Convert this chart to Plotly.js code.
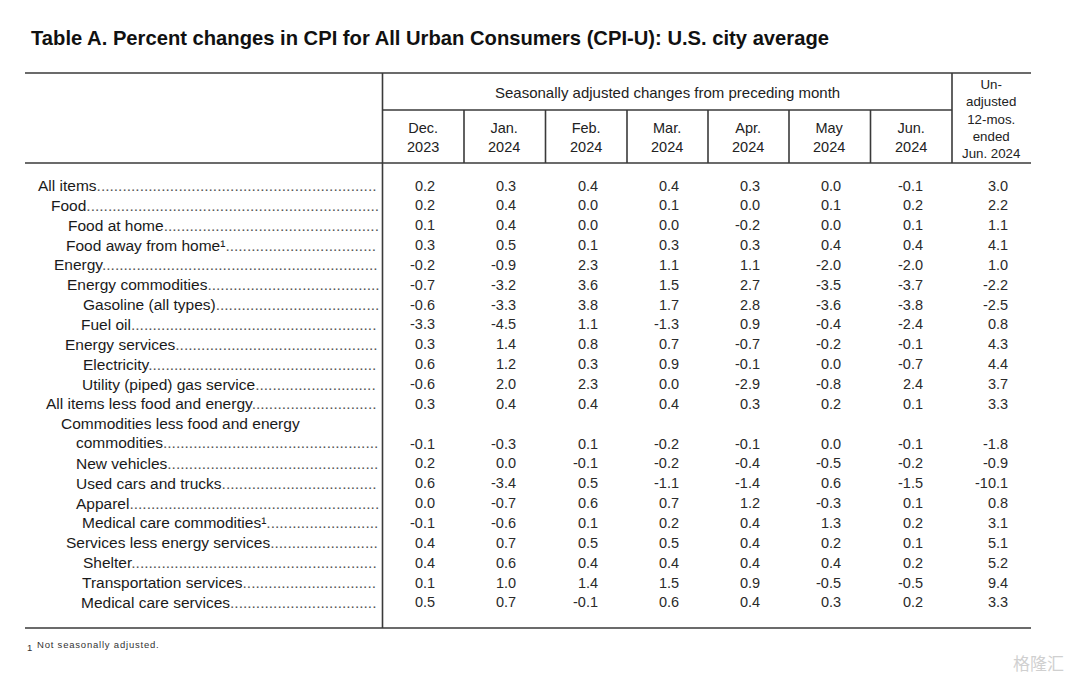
<!DOCTYPE html>
<html>
<head>
<meta charset="utf-8">
<script src="https://cdn.plot.ly/plotly-3.0.1.min.js"></script>
<style>html,body{margin:0;padding:0;background:#fff;}#chart{width:1071px;height:681px;}</style>
</head>
<body>
<div id="chart"></div>
<script>
// ---------------- DATA ----------------
const tableTitle = "Table A. Percent changes in CPI for All Urban Consumers (CPI-U): U.S. city average";
const groupHeader = "Seasonally adjusted changes from preceding month";
const columnHeaders = ["Dec.<br>2023", "Jan.<br>2024", "Feb.<br>2024", "Mar.<br>2024", "Apr.<br>2024", "May<br>2024", "Jun.<br>2024"];
const unadjHeader = "Un-<br>adjusted<br>12-mos.<br>ended<br>Jun. 2024";
const categories = [
  "All items", "Food", "Food at home", "Food away from home\u00b9", "Energy",
  "Energy commodities", "Gasoline (all types)", "Fuel oil", "Energy services", "Electricity",
  "Utility (piped) gas service", "All items less food and energy",
  "Commodities less food and energy\ncommodities", "New vehicles", "Used cars and trucks",
  "Apparel", "Medical care commodities\u00b9", "Services less energy services", "Shelter",
  "Transportation services", "Medical care services"
];
const dec2023 = [0.2, 0.2, 0.1, 0.3, -0.2, -0.7, -0.6, -3.3, 0.3, 0.6, -0.6, 0.3, -0.1, 0.2, 0.6, 0.0, -0.1, 0.4, 0.4, 0.1, 0.5];
const jan2024 = [0.3, 0.4, 0.4, 0.5, -0.9, -3.2, -3.3, -4.5, 1.4, 1.2, 2.0, 0.4, -0.3, 0.0, -3.4, -0.7, -0.6, 0.7, 0.6, 1.0, 0.7];
const feb2024 = [0.4, 0.0, 0.0, 0.1, 2.3, 3.6, 3.8, 1.1, 0.8, 0.3, 2.3, 0.4, 0.1, -0.1, 0.5, 0.6, 0.1, 0.5, 0.4, 1.4, -0.1];
const mar2024 = [0.4, 0.1, 0.0, 0.3, 1.1, 1.5, 1.7, -1.3, 0.7, 0.9, 0.0, 0.4, -0.2, -0.2, -1.1, 0.7, 0.2, 0.5, 0.4, 1.5, 0.6];
const apr2024 = [0.3, 0.0, -0.2, 0.3, 1.1, 2.7, 2.8, 0.9, -0.7, -0.1, -2.9, 0.3, -0.1, -0.4, -1.4, 1.2, 0.4, 0.4, 0.4, 0.9, 0.4];
const may2024 = [0.0, 0.1, 0.0, 0.4, -2.0, -3.5, -3.6, -0.4, -0.2, 0.0, -0.8, 0.2, 0.0, -0.5, 0.6, -0.3, 1.3, 0.2, 0.4, -0.5, 0.3];
const jun2024 = [-0.1, 0.2, 0.1, 0.4, -2.0, -3.7, -3.8, -2.4, -0.1, -0.7, 2.4, 0.1, -0.1, -0.2, -1.5, 0.1, 0.2, 0.1, 0.2, -0.5, 0.2];
const unadj12mo = [3.0, 2.2, 1.1, 4.1, 1.0, -2.2, -2.5, 0.8, 4.3, 4.4, 3.7, 3.3, -1.8, -0.9, -10.1, 0.8, 3.1, 5.1, 5.2, 9.4, 3.3];
const footnote = "Not seasonally adjusted.";
const watermark = "\u683c\u9686\u6c47";

// ---------------- LAYOUT (positions / styles) ----------------
const W = 1071, H = 681;
const FONT = "Liberation Sans, Arial, sans-serif";
const LABEL_SIZE = 15.5;
const labelIndent = [36, 49, 66, 64, 52, 65, 81, 79, 63, 81, 80, 44, [59, 74], 74, 74, 74, 80, 64, 81, 80, 79];
const rowTop = 185.5, rowStep = 19.85;
const colCenters = [423, 504, 586, 667, 748, 829, 911];
const unadjCenter = 991;
const leaderEnd = 378;
const monthSeries = [dec2023, jan2024, feb2024, mar2024, apr2024, may2024, jun2024];

function slotY(s) { return rowTop + rowStep * s; }
function rowSlot(i) { return i <= 12 ? i : i + 1; } // row 12 has two lines
function valueSlot(i) { return i === 12 ? 13 : rowSlot(i); }

const cv = document.createElement("canvas").getContext("2d");
cv.font = LABEL_SIZE + "px 'Liberation Sans'";
const dotW = cv.measureText(".").width;
function withLeader(txt, x0) {
  const w = cv.measureText(txt).width;
  const n = Math.max(0, Math.floor((leaderEnd - x0 - w) / dotW));
  return txt + '<span style="color:#555">' + ".".repeat(n) + "</span>";
}

const ann = [];
const line = (x0, y0, x1, y1) => ({type: "line", xref: "x", yref: "y", x0, y0, x1, y1, line: {color: "#3a3a3a", width: 1.6}});
const A = (o) => Object.assign({xref: "x", yref: "y", yanchor: "middle", showarrow: false}, o);

// title
ann.push(A({x: 29, y: 38, xanchor: "left", text: "<b>" + tableTitle + "</b>", font: {family: FONT, size: 20.2, color: "#111"}}));
// headers
ann.push(A({x: 667, y: 92, xanchor: "center", text: groupHeader, font: {family: FONT, size: 15, color: "#222"}}));
columnHeaders.forEach((h, k) => ann.push(A({x: colCenters[k], y: 137, xanchor: "center", text: h, font: {family: FONT, size: 14.5, color: "#222"}})));
ann.push(A({x: unadjCenter, y: 119, xanchor: "center", text: unadjHeader, font: {family: FONT, size: 13.3, color: "#222"}}));

// row labels
categories.forEach((c, i) => {
  const parts = c.split("\n");
  const s = rowSlot(i);
  if (parts.length === 2) {
    const ind = labelIndent[i];
    ann.push(A({x: ind[0], y: slotY(s), xanchor: "left", text: parts[0], font: {family: FONT, size: LABEL_SIZE, color: "#1a1a1a"}}));
    ann.push(A({x: ind[1], y: slotY(s + 1) - 1.5, xanchor: "left", text: withLeader(parts[1], ind[1]), font: {family: FONT, size: LABEL_SIZE, color: "#1a1a1a"}}));
  } else {
    ann.push(A({x: labelIndent[i], y: slotY(s), xanchor: "left", text: withLeader(c, labelIndent[i]), font: {family: FONT, size: LABEL_SIZE, color: "#1a1a1a"}}));
  }
});

// values
monthSeries.forEach((ser, k) => ser.forEach((v, i) => ann.push(A({
  x: colCenters[k] + 14, y: slotY(valueSlot(i)), xanchor: "right",
  text: v.toFixed(1), font: {family: FONT, size: 14.5, color: "#2a2a2a"}}))));
unadj12mo.forEach((v, i) => ann.push(A({
  x: unadjCenter + 19, y: slotY(valueSlot(i)), xanchor: "right",
  text: v.toFixed(1), font: {family: FONT, size: 14.5, color: "#2a2a2a"}})));

// footnote
ann.push(A({x: 25, y: 647, xanchor: "left", text: "1", font: {family: FONT, size: 9.5, color: "#333"}}));
ann.push(A({x: 35, y: 644, xanchor: "left", text: footnote.split("").join("\u200a"), font: {family: FONT, size: 9.5, color: "#333"}}));
// watermark
ann.push(A({x: 1066, y: 662, xanchor: "right", text: watermark, font: {family: "Noto Sans CJK SC", size: 17, color: "#d0d0d0"}}));

const shapes = [
  line(25, 73, 1031, 73),
  line(25, 163, 1031, 163),
  line(25, 628, 1031, 628),
  line(382.5, 73, 382.5, 628),
  line(382.5, 110, 952, 110),
  line(952, 73, 952, 163),
  ...colCenters.slice(0, 6).map((c, k) => line((c + colCenters[k + 1]) / 2 + 0.5, 110, (c + colCenters[k + 1]) / 2 + 0.5, 163))
];

Plotly.newPlot("chart", [{x: [0, W], y: [0, H], type: "scatter", mode: "markers", marker: {opacity: 0}, hoverinfo: "skip", showlegend: false}], {
  width: W, height: H,
  margin: {l: 0, r: 0, t: 0, b: 0},
  paper_bgcolor: "#fff", plot_bgcolor: "#fff",
  font: {family: FONT},
  xaxis: {range: [0, W], visible: false, fixedrange: true},
  yaxis: {range: [H, 0], visible: false, fixedrange: true},
  annotations: ann,
  shapes: shapes,
  showlegend: false
}, {displayModeBar: false, staticPlot: true});
</script>
</body>
</html>
